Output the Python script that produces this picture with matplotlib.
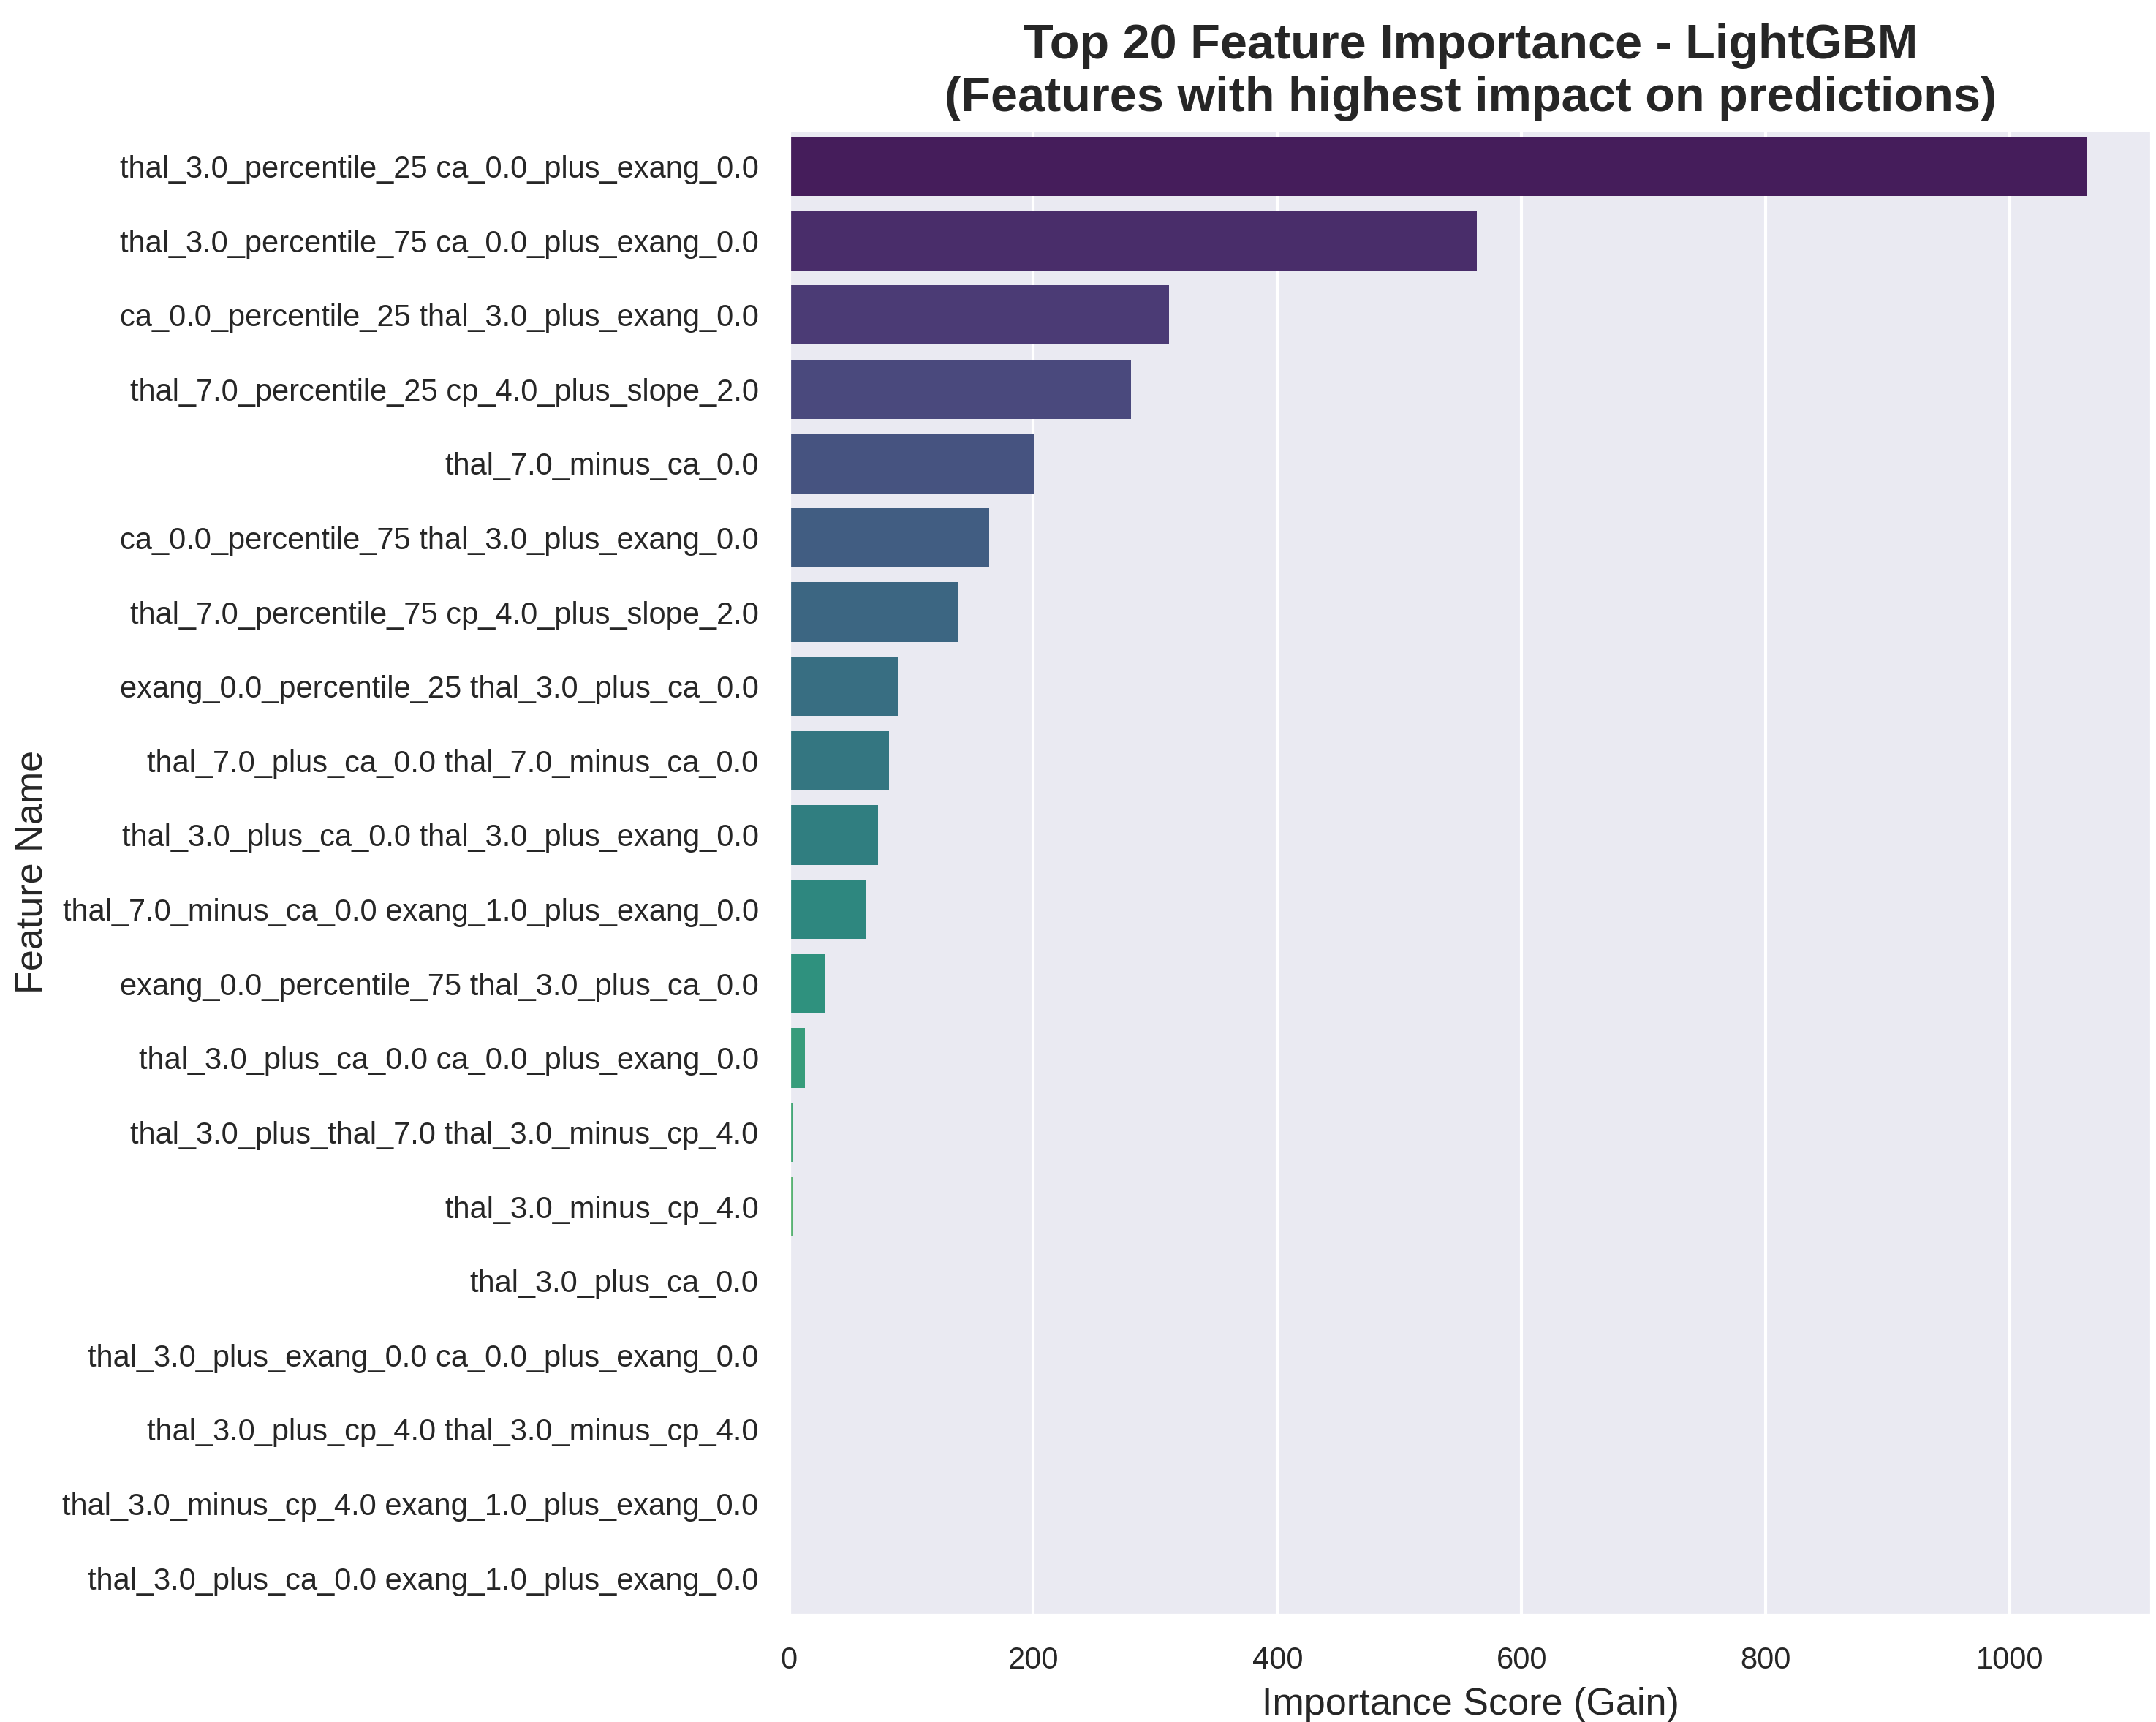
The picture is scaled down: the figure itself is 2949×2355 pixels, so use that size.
import matplotlib
matplotlib.use("Agg")
import matplotlib.pyplot as plt
import seaborn as sns
import pandas as pd

features = [
    "thal_3.0_percentile_25 ca_0.0_plus_exang_0.0",
    "thal_3.0_percentile_75 ca_0.0_plus_exang_0.0",
    "ca_0.0_percentile_25 thal_3.0_plus_exang_0.0",
    "thal_7.0_percentile_25 cp_4.0_plus_slope_2.0",
    "thal_7.0_minus_ca_0.0",
    "ca_0.0_percentile_75 thal_3.0_plus_exang_0.0",
    "thal_7.0_percentile_75 cp_4.0_plus_slope_2.0",
    "exang_0.0_percentile_25 thal_3.0_plus_ca_0.0",
    "thal_7.0_plus_ca_0.0 thal_7.0_minus_ca_0.0",
    "thal_3.0_plus_ca_0.0 thal_3.0_plus_exang_0.0",
    "thal_7.0_minus_ca_0.0 exang_1.0_plus_exang_0.0",
    "exang_0.0_percentile_75 thal_3.0_plus_ca_0.0",
    "thal_3.0_plus_ca_0.0 ca_0.0_plus_exang_0.0",
    "thal_3.0_plus_thal_7.0 thal_3.0_minus_cp_4.0",
    "thal_3.0_minus_cp_4.0",
    "thal_3.0_plus_ca_0.0",
    "thal_3.0_plus_exang_0.0 ca_0.0_plus_exang_0.0",
    "thal_3.0_plus_cp_4.0 thal_3.0_minus_cp_4.0",
    "thal_3.0_minus_cp_4.0 exang_1.0_plus_exang_0.0",
    "thal_3.0_plus_ca_0.0 exang_1.0_plus_exang_0.0",
]
importance = [1063, 563, 311, 280, 201, 164, 139, 89, 82, 73,
              63, 30, 13, 3, 2.5, 1.5, 1.0, 0.6, 0.3, 0.1]

sns.set_theme(style="darkgrid")
plt.rcParams['font.family'] = ['Arial', 'Liberation Sans', 'DejaVu Sans']

df = pd.DataFrame({"Feature": features, "Importance": importance})
fig, ax = plt.subplots(figsize=(9.83, 7.85), dpi=300)
sns.barplot(data=df, x="Importance", y="Feature", hue="Feature",
            palette="viridis", legend=False, ax=ax, linewidth=0)
ax.set_title("Top 20 Feature Importance - LightGBM\n(Features with highest impact on predictions)",
             fontsize=16, fontweight="bold")
ax.set_xlabel("Importance Score (Gain)", fontsize=12.5)
ax.set_ylabel("Feature Name", fontsize=12.5)
ax.tick_params(labelsize=10, pad=4)
ax.set_xlim(0, 1116)
fig.subplots_adjust(left=0.366, right=0.998, top=0.925, bottom=0.062)
fig.savefig("out.png", dpi=300)
